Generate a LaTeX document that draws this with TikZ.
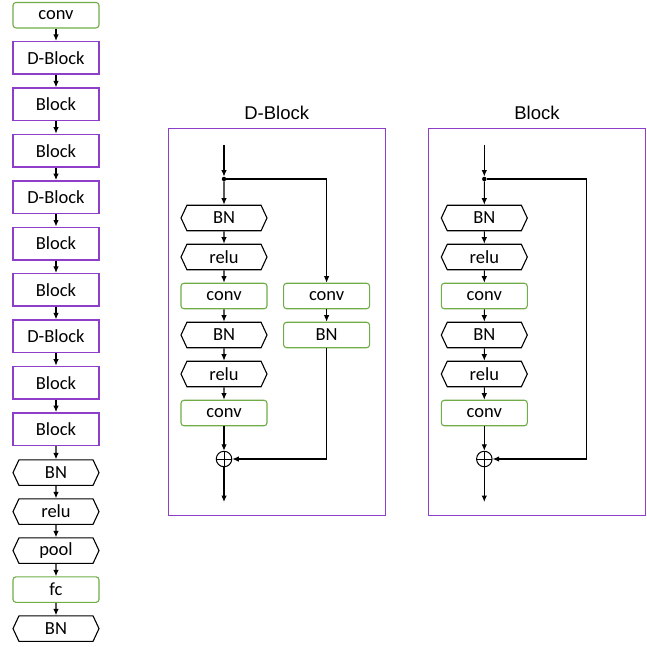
\documentclass[tikz,border=0pt]{standalone}
\usepackage{fontspec}
\setmainfont{Carlito}
\newfontfamily\titlefont{Liberation Sans}
\usetikzlibrary{positioning}
\usetikzlibrary{shapes.symbols, arrows.meta}

\definecolor{blockpurple}{RGB}{143,62,201}
\definecolor{convgreen}{RGB}{112,173,71}

\tikzset{
  base/.style={minimum width=86pt, minimum height=25.5pt, inner sep=0pt, font=\fontsize{18.5}{20}\selectfont},
  layer/.style={base, draw=convgreen, line width=1.1pt, rounded corners=3pt},
  act/.style={base, draw=black, line width=1.1pt, shape=signal, signal to=east and west, signal pointer angle=130},
  blk/.style={base, draw=blockpurple, line width=1.5pt, minimum height=32.5pt},
  sum/.style={circle, draw, line width=1pt, minimum size=15.5pt, inner sep=0pt,
    path picture={\draw (path picture bounding box.north) -- (path picture bounding box.south)
      (path picture bounding box.west) -- (path picture bounding box.east);}},
  flow/.style={-{Latex[length=6.5pt,width=5.5pt]}, line width=1.1pt},
  dot/.style={circle, fill, inner sep=0pt, minimum size=4.5pt},
  panel/.style={draw=blockpurple, line width=1pt},
  title/.style={font=\titlefont\fontsize{18.5}{20}\selectfont}
}

\begin{document}
\begin{tikzpicture}[x=1pt,y=-1pt,node distance=12.4pt]
\useasboundingbox (0,0) rectangle (647,646);

% network
\node[layer] (conv0) at (56,15.2) {conv};
\node[blk] (net1) [below=of conv0] {D-Block};
\node[blk] (net2) [below=of net1] {Block};
\node[blk] (net3) [below=of net2] {Block};
\node[blk] (net4) [below=of net3] {D-Block};
\node[blk] (net5) [below=of net4] {Block};
\node[blk] (net6) [below=of net5] {Block};
\node[blk] (net7) [below=of net6] {D-Block};
\node[blk] (net8) [below=of net7] {Block};
\node[blk] (net9) [below=of net8] {Block};
\node[act] (bn0) [below=13.2pt of net9] {BN};
\node[act] (relu0) [below=of bn0] {relu};
\node[act] (pool0) [below=of relu0] {pool};
\node[layer] (fc0) [below=of pool0] {fc};
\node[act] (bnout) [below=of fc0] {BN};

\draw[flow] (conv0) -- (net1);
\draw[flow] (net1) -- (net2);
\draw[flow] (net2) -- (net3);
\draw[flow] (net3) -- (net4);
\draw[flow] (net4) -- (net5);
\draw[flow] (net5) -- (net6);
\draw[flow] (net6) -- (net7);
\draw[flow] (net7) -- (net8);
\draw[flow] (net8) -- (net9);
\draw[flow] (net9) -- (bn0);
\draw[flow] (bn0) -- (relu0);
\draw[flow] (relu0) -- (pool0);
\draw[flow] (pool0) -- (fc0);
\draw[flow] (fc0) -- (bnout);

% D-Block
\draw[panel] (168,128) rectangle (385.5,515.5);
\node[title] (dtitle) at (276.7,113) {D-Block};
\coordinate (din) at (224,145);
\node[dot] (dsplit) at (224,179) {};
\node[act] (dbn1) at (224,218) {BN};
\node[act] (drelu1) [below=of dbn1] {relu};
\node[layer] (dconv1) [below=of drelu1] {conv};
\node[act] (dbn2) [below=of dconv1] {BN};
\node[act] (drelu2) [below=of dbn2] {relu};
\node[layer] (dconv2) [below=of drelu2] {conv};
\node[layer] (dconv3) [right=15.5pt of dconv1] {conv};
\node[layer] (dbn3) [below=of dconv3] {BN};
\node[sum] (dsum) at (224,459) {};
\coordinate (dout) at (224,502);

\draw[flow] (din) -- (dsplit);
\draw[flow] (dsplit) -- (dbn1);
\draw[flow] (dsplit) -| (dconv3);
\draw[flow] (dbn1) -- (drelu1);
\draw[flow] (drelu1) -- (dconv1);
\draw[flow] (dconv1) -- (dbn2);
\draw[flow] (dbn2) -- (drelu2);
\draw[flow] (drelu2) -- (dconv2);
\draw[flow] (dconv3) -- (dbn3);
\draw[flow] (dconv2) -- (dsum);
\draw[flow] (dbn3) |- (dsum);
\draw[flow] (dsum) -- (dout);

% Block
\draw[panel] (428.3,128) rectangle (645.7,515.5);
\node[title] (btitle) at (537,113) {Block};
\coordinate (bin) at (484.3,145);
\node[dot] (bsplit) at (484.3,179) {};
\node[act] (bbn1) at (484.3,218) {BN};
\node[act] (brelu1) [below=of bbn1] {relu};
\node[layer] (bconv1) [below=of brelu1] {conv};
\node[act] (bbn2) [below=of bconv1] {BN};
\node[act] (brelu2) [below=of bbn2] {relu};
\node[layer] (bconv2) [below=of brelu2] {conv};
\node[sum] (bsum) at (484.3,459) {};
\coordinate (bturn) at (586.7,179);
\coordinate (bout) at (484.3,502);

\draw[flow] (bin) -- (bsplit);
\draw[flow] (bsplit) -- (bbn1);
\draw[flow] (bbn1) -- (brelu1);
\draw[flow] (brelu1) -- (bconv1);
\draw[flow] (bconv1) -- (bbn2);
\draw[flow] (bbn2) -- (brelu2);
\draw[flow] (brelu2) -- (bconv2);
\draw[flow] (bconv2) -- (bsum);
\draw[flow] (bsplit) -- (bturn) |- (bsum);
\draw[flow] (bsum) -- (bout);
\end{tikzpicture}
\end{document}
